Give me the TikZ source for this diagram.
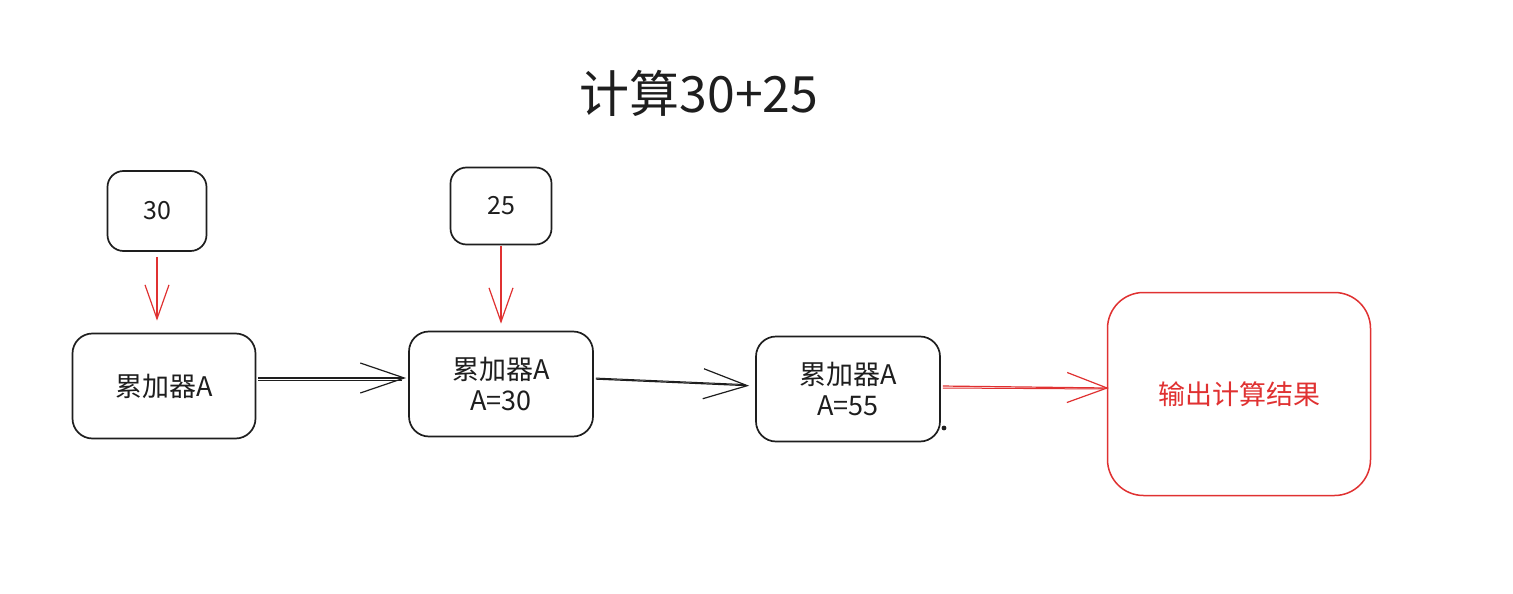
\documentclass[tikz,border=0pt]{standalone}
\usepackage{fontspec}
\setmainfont{Noto Sans CJK SC}
\usetikzlibrary{arrows.meta}
\definecolor{ink}{HTML}{1E1E1E}
\definecolor{redink}{HTML}{E03131}
\begin{document}
\begin{tikzpicture}[x=1pt,y=-1pt,
  box/.style={draw=ink, line width=1.7pt, rounded corners=20pt, align=center,
    inner sep=0pt, font=\fontsize{27}{31}\selectfont, text=ink},
  smallbox/.style={box, rounded corners=16pt, font=\fontsize{25}{28}\selectfont},
  resultbox/.style={box, draw=redink, text=redink, rounded corners=36pt,
    font=\fontsize{27}{30}\selectfont},
  flow/.style={draw=ink, line width=1.2pt, -{Straight Barb[length=44pt,width=30pt,line width=1.2pt]}},
  flowtwin/.style={draw=ink, line width=1pt},
  feed/.style={draw=redink, line width=1.2pt, -{Straight Barb[length=34pt,width=24pt,line width=1.2pt]}},
  outflow/.style={draw=redink, line width=1.2pt, -{Straight Barb[length=40pt,width=30pt,line width=1.2pt]}},
  outtwin/.style={draw=redink, line width=1pt},
]
\useasboundingbox (0,0) rectangle (1513,594);
\fill[white] (0,0) rectangle (1513,594);

% title
\node[text=ink, font=\fontsize{50}{56}\selectfont] (title) at (699,93) {计算30+25};

% input operands
\node[smallbox, minimum width=99pt, minimum height=80pt] (n30) at (157,211) {30};
\node[smallbox, minimum width=101pt, minimum height=77pt] (n25) at (501,206) {25};

% accumulator stages
\node[box, minimum width=183pt, minimum height=105pt] (a1) at (164,386) {累加器A};
\node[box, minimum width=184pt, minimum height=105pt] (a2) at (501,384) {累加器A\\A=30};
\node[box, minimum width=184pt, minimum height=105pt] (a3) at (848,389) {累加器A\\A=55};

% result
\node[resultbox, line width=1.5pt, minimum width=263pt, minimum height=203pt] (res) at (1239,394) {输出计算结果};

% operands fed into the accumulator
\draw[feed, shorten <=5pt, shorten >=12pt] (n30.south) -- (n30.south |- a1.north);
\draw[feed, shorten <=1pt, shorten >=7pt] (n25.south) -- (n25.south |- a2.north);

% accumulator hand-over
\draw[flow, shorten <=2pt, shorten >=2pt] ([yshift=8pt]a1.east) -- ([yshift=8pt]a1.east -| a2.west);
\draw[flowtwin, shorten <=2pt, shorten >=6pt] ([yshift=5.5pt]a1.east) -- ([yshift=5.5pt]a1.east -| a2.west);
\draw[flow, shorten <=2pt, shorten >=6pt] ([yshift=5pt]a2.east) -- ([yshift=3pt]a3.west);
\draw[flowtwin, shorten <=2pt, shorten >=10pt] ([yshift=6pt]a2.east) -- ([yshift=4pt]a3.west);

% result output
\draw[outflow, shorten <=2pt, shorten >=-2pt] ([yshift=3pt]a3.east) -- ([yshift=6pt]res.west);
\draw[outtwin, shorten <=2pt, shorten >=4pt] ([yshift=1pt]a3.east) -- ([yshift=5pt]res.west);

% stray pen mark
\coordinate (mark) at (944,428);
\fill[ink] (mark) circle (2.4pt);
\end{tikzpicture}
\end{document}
